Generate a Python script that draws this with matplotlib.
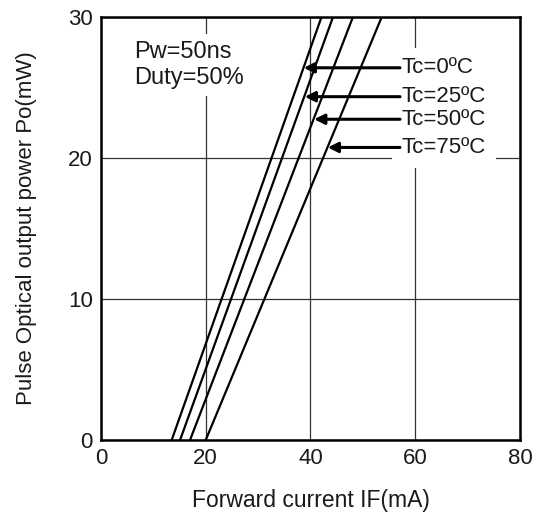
import matplotlib
matplotlib.use("Agg")
import matplotlib.pyplot as plt

plt.rcParams['font.family'] = ['Liberation Sans', 'DejaVu Sans']

# Data: forward current (mA) where each curve leaves 0 mW and where it reaches 30 mW
labels = ["Tc=0ºC", "Tc=25ºC", "Tc=50ºC", "Tc=75ºC"]
if_start = [13.5, 15.1, 17.0, 20.0]
if_end = [42.1, 44.3, 48.1, 53.6]
po_start = [0, 0, 0, 0]
po_end = [30, 30, 30, 30]

# Arrow annotation points (tip on curve, tail at label)
arrow_tip_if = [38.7, 38.9, 40.7, 43.3]
arrow_po = [26.4, 24.35, 22.75, 20.75]
label_if = 57.4

xticks = [0, 20, 40, 60, 80]
yticks = [0, 10, 20, 30]

fig = plt.figure(figsize=(5.43, 5.16), dpi=100)
ax = fig.add_axes([0.186, 0.1473, 0.7716, 0.8197])

for xs, xe, ys, ye in zip(if_start, if_end, po_start, po_end):
    ax.plot([xs, xe], [ys, ye], color='black', lw=1.6, zorder=2)

ax.set_xlim(0, 80)
ax.set_ylim(0, 30)
ax.set_xticks(xticks)
ax.set_yticks(yticks)
ax.grid(True, color='#333333', lw=0.9, zorder=1)
ax.set_axisbelow(True)
ax.tick_params(length=0, labelsize=16, pad=6, colors='#1a1a1a')
for s in ax.spines.values():
    s.set_linewidth(1.8)
    s.set_color('black')

ax.set_xlabel("Forward current IF(mA)", fontsize=16.5, labelpad=14, color='#1a1a1a')
ax.set_ylabel("Pulse Optical output power Po(mW)", fontsize=16, labelpad=22, color='#1a1a1a')

ax.text(6.3, 26.6, "Pw=50ns\nDuty=50%", fontsize=17, ha='left', va='center',
        linespacing=1.2, color='#1a1a1a',
        bbox=dict(facecolor='white', edgecolor='none', pad=5), zorder=3)

# white backing boxes (text invisible), then visible text on top
for lab, po in zip(labels, arrow_po):
    ax.text(label_if, po, lab, fontsize=16, ha='left', va='center', color=(0, 0, 0, 0),
            bbox=dict(facecolor='white', edgecolor='none', pad=7), zorder=3)
for lab, po in zip(labels, arrow_po):
    ax.text(label_if, po, lab, fontsize=16, ha='left', va='center', color='#1a1a1a', zorder=5)
for tip, po in zip(arrow_tip_if, arrow_po):
    ax.annotate('', xy=(tip, po), xytext=(label_if - 0.3, po),
                arrowprops=dict(arrowstyle='-|>', color='black', lw=2.2,
                                mutation_scale=15, shrinkA=0, shrinkB=0),
                zorder=4)

fig.savefig("out.png", dpi=100)
